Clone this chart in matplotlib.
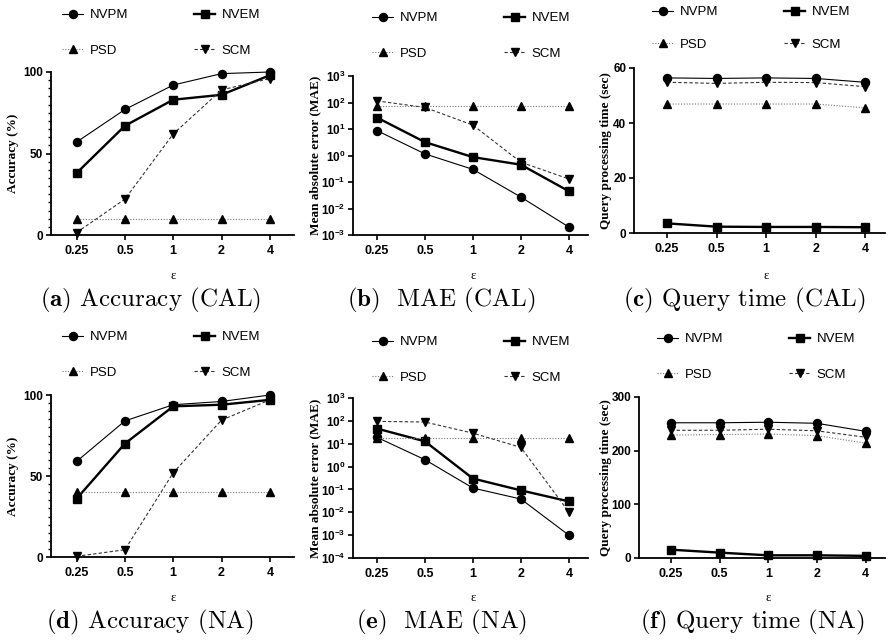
import math
import matplotlib
matplotlib.use("Agg")
import matplotlib.pyplot as plt
from matplotlib.ticker import FixedLocator, MultipleLocator, FuncFormatter, NullLocator

plt.rcParams['font.family'] = 'Liberation Sans'
plt.rcParams['mathtext.fontset'] = 'custom'
plt.rcParams['mathtext.rm'] = 'Liberation Sans'
plt.rcParams['mathtext.bf'] = 'Liberation Sans:bold'
plt.rcParams['mathtext.it'] = 'Liberation Sans:italic'

W, H = 889, 642

x_labels = ['0.25', '0.5', '1', '2', '4']
series_names = ['NVPM', 'NVEM', 'PSD', 'SCM']

# CAL
acc_cal_nvpm = [57, 77, 92, 99, 100]
acc_cal_nvem = [38, 67, 83, 86, 98]
acc_cal_psd = [10, 10, 10, 10, 10]
acc_cal_scm = [1.5, 22, 62, 89, 96]

mae_cal_nvpm = [8.7, 1.15, 0.3, 0.027, 0.002]
mae_cal_nvem = [27, 3.2, 0.87, 0.45, 0.045]
mae_cal_psd = [71, 71, 71, 71, 71]
mae_cal_scm = [115, 65, 14, 0.56, 0.13]

time_cal_nvpm = [56.4, 56.2, 56.4, 56.2, 54.8]
time_cal_nvem = [3.5, 2.3, 2.2, 2.2, 2.1]
time_cal_psd = [46.9, 46.9, 46.9, 46.9, 45.5]
time_cal_scm = [54.8, 54.4, 54.8, 54.7, 53.2]

# NA
acc_na_nvpm = [59, 84, 94, 96, 100]
acc_na_nvem = [36, 70, 93, 94, 97]
acc_na_psd = [40, 40, 40, 40, 40]
acc_na_scm = [0.4, 4.5, 52, 84.5, 97]

mae_na_nvpm = [19, 2.0, 0.115, 0.038, 0.001]
mae_na_nvem = [46, 12.7, 0.3, 0.091, 0.03]
mae_na_psd = [18, 18, 18, 18, 18]
mae_na_scm = [95, 89, 29, 6.9, 0.0103]

time_na_nvpm = [252, 252, 253, 251, 236]
time_na_nvem = [15.5, 10, 5, 5, 4]
time_na_psd = [229, 230, 231, 228, 214]
time_na_scm = [238, 238, 240, 237, 225]

styles = {
    'NVPM': dict(marker='o', ls='-', lw=0.8, color='black'),
    'NVEM': dict(marker='s', ls='-', lw=1.7, color='black'),
    'PSD': dict(marker='^', ls=(0, (1, 1.5)), lw=0.8, color='#777777'),
    'SCM': dict(marker='v', ls=(0, (3, 2)), lw=0.8, color='#333333'),
}

fig = plt.figure(figsize=(W / 100, H / 100), dpi=100)


def add_ax(l, t, r, b):
    return fig.add_axes([l / W, 1 - b / H, (r - l) / W, (b - t) / H])


def panel(box, data, kind, ylabel, ylabel_x, caption, cap_y, eps_y, opt):
    l, t, r, b = box
    ax = add_ax(l, t, r, b)
    xs = range(len(x_labels))
    lines = {}
    for name, vals in zip(series_names, data):
        st = styles[name]
        lines[name], = ax.plot(xs, vals, marker=st['marker'], linestyle=st['ls'], lw=st['lw'],
                               color=st['color'], markerfacecolor='black', markeredgecolor='black',
                               markersize=5.8, clip_on=False, label=name, zorder=3)
    ax.set_xlim(-opt['xl'], 4 + opt['xr'])
    ax.xaxis.set_major_locator(FixedLocator(list(xs)))
    ax.set_xticklabels(x_labels, fontweight='bold', fontsize=9)
    if kind == 'acc':
        ax.set_ylim(0, 100)
        ax.yaxis.set_major_locator(FixedLocator([0, 50, 100]))
        ax.yaxis.set_minor_locator(MultipleLocator(5))
    elif kind == 'log':
        ax.set_yscale('log')
        ax.set_ylim(opt['ylo'], 1e3)
        ax.yaxis.set_major_locator(FixedLocator([10.0 ** k for k in range(opt['elo'], 4)]))
        ax.yaxis.set_minor_locator(NullLocator())
        ax.yaxis.set_major_formatter(FuncFormatter(
            lambda v, p: r'$\mathbf{10^{%d}}$' % round(math.log10(v))))
    else:
        ax.set_ylim(0, opt['ymax'])
        ax.yaxis.set_major_locator(FixedLocator(opt['yticks']))
    for lab in ax.get_yticklabels():
        lab.set_fontweight('bold')
        lab.set_fontsize(8.5)
    ax.spines['top'].set_visible(False)
    ax.spines['right'].set_visible(False)
    for s in ('left', 'bottom'):
        ax.spines[s].set_linewidth(1.3)
    ax.tick_params(which='major', length=3.5, width=1.2, pad=2)
    ax.tick_params(which='minor', length=2, width=1.0)
    ax.tick_params(axis='x', pad=4)

    # epsilon label under the middle tick
    x_mid = ax.transData.transform((2, 0))[0]
    fig.text(x_mid / W, 1 - eps_y / H, 'ε', ha='center', va='center',
             family='Liberation Serif', fontsize=9)
    fig.text(ylabel_x / W, 1 - ((t + b) / 2) / H, ylabel, rotation=90, ha='center',
             va='center', family='Liberation Serif', fontweight='bold', fontsize=9.5)
    fig.text(opt['cap_x'] / W, 1 - cap_y / H, caption, ha='center', va='baseline',
             family='cmr10', math_fontfamily='cm', fontsize=18)

    # legend fills column by column, so pass NVPM, PSD | NVEM, SCM
    hs = [lines['NVPM'], lines['PSD'], lines['NVEM'], lines['SCM']]
    ax.legend(hs, [h.get_label() for h in hs], loc='upper left',
              bbox_to_anchor=(opt['lx'] / W, 1 - opt['ly'] / H),
              bbox_transform=fig.transFigure, ncol=2, frameon=False, fontsize=9.5,
              handlelength=1.6, handletextpad=0.5, columnspacing=5.0,
              labelspacing=opt.get('ls', 1.75), borderpad=0, borderaxespad=0)
    return ax


panel((51, 72, 294, 235),
      [acc_cal_nvpm, acc_cal_nvem, acc_cal_psd, acc_cal_scm], 'acc',
      'Accuracy (%)', 13, r'$\mathbf{(a)}$ Accuracy (CAL)', 306, 276,
      dict(xl=0.53, xr=0.5, cap_x=150, lx=62, ly=9))
panel((353, 76, 588, 235),
      [mae_cal_nvpm, mae_cal_nvem, mae_cal_psd, mae_cal_scm], 'log',
      'Mean absolute error (MAE)', 315, r'$\mathbf{(b)}$  MAE (CAL)', 306, 276,
      dict(xl=0.5, xr=0.4, ylo=1e-3, elo=-3, cap_x=441, lx=372, ly=12))
panel((634, 68, 885, 233),
      [time_cal_nvpm, time_cal_nvem, time_cal_psd, time_cal_scm], 'time',
      'Query processing time (sec)', 606, r'$\mathbf{(c)}$ Query time (CAL)', 306, 276,
      dict(xl=0.67, xr=0.4, ymax=60, yticks=[0, 20, 40, 60], cap_x=744, lx=652, ly=6, ls=1.55))

panel((51, 395, 294, 557),
      [acc_na_nvpm, acc_na_nvem, acc_na_psd, acc_na_scm], 'acc',
      'Accuracy (%)', 13, r'$\mathbf{(d)}$ Accuracy (NA)', 628, 598,
      dict(xl=0.53, xr=0.5, cap_x=150, lx=62, ly=331))
panel((353, 398, 588, 558),
      [mae_na_nvpm, mae_na_nvem, mae_na_psd, mae_na_scm], 'log',
      'Mean absolute error (MAE)', 315, r'$\mathbf{(e)}$  MAE (NA)', 628, 598,
      dict(xl=0.5, xr=0.4, ylo=1e-4, elo=-4, cap_x=442, lx=372, ly=336))
panel((639, 397, 885, 558),
      [time_na_nvpm, time_na_nvem, time_na_psd, time_na_scm], 'time',
      'Query processing time (sec)', 606, r'$\mathbf{(f)}$ Query time (NA)', 628, 598,
      dict(xl=0.66, xr=0.4, ymax=300, yticks=[0, 100, 200, 300], cap_x=752, lx=657, ly=333))

fig.savefig('out.png', dpi=100)
